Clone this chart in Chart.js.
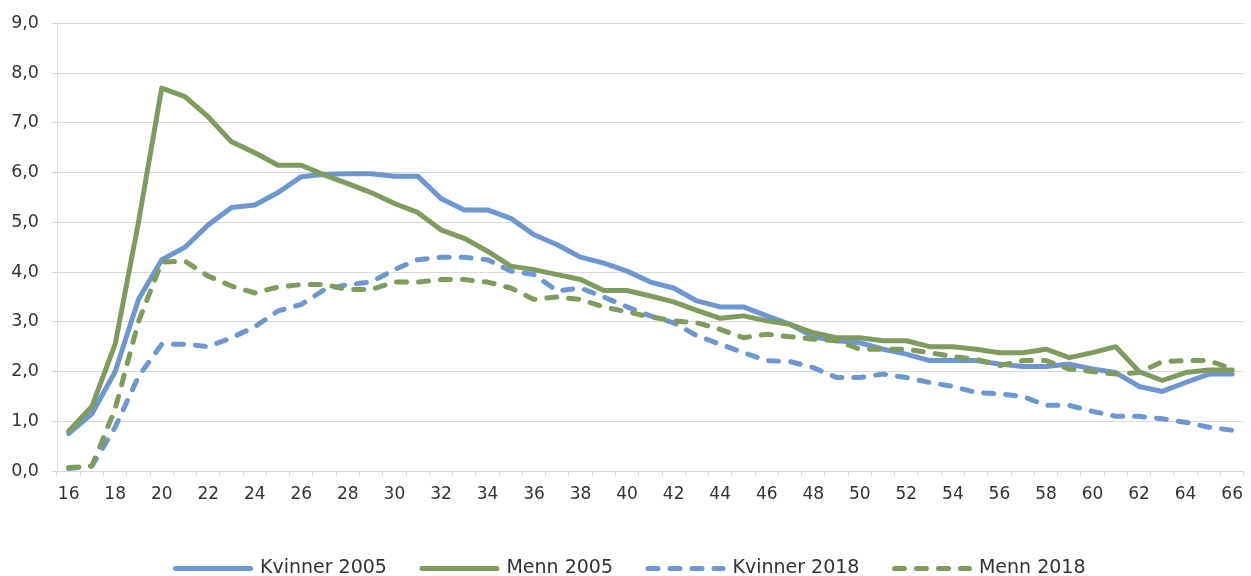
<!DOCTYPE html>
<html>
<head>
<meta charset="utf-8">
<script src="https://cdn.jsdelivr.net/npm/chart.js@4/dist/chart.umd.min.js"></script>
<style>
html,body{margin:0;padding:0;background:#fff;}
#wrap{width:1251px;height:576px;position:relative;}
</style>
</head>
<body>
<div id="wrap"><canvas id="c" width="1251" height="576"></canvas></div>
<script>
const ages = [16,17,18,19,20,21,22,23,24,25,26,27,28,29,30,31,32,33,34,35,36,37,38,39,40,41,42,43,44,45,46,47,48,49,50,51,52,53,54,55,56,57,58,59,60,61,62,63,64,65,66];

const kvinner2005 = [0.75,1.15,2.0,3.45,4.25,4.5,4.95,5.3,5.35,5.6,5.92,5.97,5.98,5.98,5.93,5.93,5.48,5.25,5.25,5.08,4.75,4.55,4.3,4.18,4.02,3.8,3.68,3.42,3.3,3.3,3.12,2.95,2.7,2.62,2.58,2.45,2.35,2.22,2.22,2.22,2.15,2.1,2.1,2.15,2.05,1.98,1.7,1.6,1.78,1.95,1.95];

const menn2005 = [0.8,1.3,2.55,5.0,7.7,7.53,7.12,6.62,6.4,6.15,6.15,5.95,5.78,5.6,5.38,5.2,4.85,4.68,4.42,4.12,4.05,3.95,3.85,3.63,3.63,3.52,3.4,3.23,3.07,3.12,3.02,2.95,2.78,2.68,2.68,2.62,2.62,2.5,2.5,2.45,2.38,2.38,2.45,2.28,2.38,2.5,2.0,1.82,1.98,2.03,2.03];

const kvinner2018 = [0.05,0.1,0.88,1.9,2.55,2.55,2.5,2.68,2.9,3.22,3.35,3.65,3.75,3.8,4.05,4.25,4.3,4.3,4.25,4.02,3.95,3.62,3.68,3.5,3.3,3.12,2.98,2.72,2.55,2.38,2.22,2.2,2.08,1.88,1.88,1.95,1.88,1.78,1.7,1.58,1.55,1.5,1.32,1.32,1.2,1.1,1.1,1.05,0.98,0.88,0.82];

const menn2018 = [0.07,0.1,1.25,3.0,4.2,4.22,3.92,3.72,3.58,3.7,3.75,3.75,3.65,3.65,3.8,3.8,3.85,3.85,3.8,3.68,3.45,3.5,3.45,3.3,3.2,3.1,3.02,2.98,2.85,2.68,2.75,2.7,2.65,2.62,2.45,2.45,2.45,2.38,2.3,2.25,2.12,2.22,2.22,2.05,2.0,1.95,1.98,2.2,2.22,2.22,2.05];

const seriesNames = ['Kvinner 2005','Menn 2005','Kvinner 2018','Menn 2018'];

const BLUE = '#6E97D0';
const GREEN = '#7F9B5D';
const GRID = '#D9D9D9';
const TEXT = '#333333';
const FONT = "'DejaVu Sans', Verdana, sans-serif";
const LW = 5;
const DASH = [10, 12];

function ds(label, data, color, dashed, idx) {
  return {
    label: label,
    data: data,
    borderColor: color,
    backgroundColor: color,
    borderWidth: LW,
    borderDash: dashed ? DASH : [],
    borderCapStyle: 'round',
    borderJoinStyle: 'round',
    pointRadius: 0,
    pointHoverRadius: 0,
    tension: 0,
    fill: false,
    order: 10 - idx
  };
}

const shiftLegend = {
  id: 'shiftLegend',
  afterUpdate(chart) {
    const lg = chart.legend;
    if (lg) { lg.top += 12; lg.bottom += 12; lg.left += 8; lg.right += 8; }
  }
};

new Chart(document.getElementById('c'), {
  type: 'line',
  data: {
    labels: ages,
    datasets: [
      ds(seriesNames[0], kvinner2005, BLUE, false, 0),
      ds(seriesNames[1], menn2005, GREEN, false, 1),
      ds(seriesNames[2], kvinner2018, BLUE, true, 2),
      ds(seriesNames[3], menn2018, GREEN, true, 3)
    ]
  },
  options: {
    responsive: false,
    animation: false,
    devicePixelRatio: 1,
    layout: { padding: { top: 23, right: 6, left: 0, bottom: 0 } },
    plugins: {
      legend: {
        position: 'bottom',
        labels: {
          usePointStyle: true,
          pointStyle: 'line',
          pointStyleWidth: 75,
          padding: 35,
          color: TEXT,
          font: { family: FONT, size: 19 },
          sort: (a, b) => a.datasetIndex - b.datasetIndex,
          generateLabels(chart) {
            const items = Chart.defaults.plugins.legend.labels.generateLabels(chart);
            items.forEach(it => {
              const d = chart.data.datasets[it.datasetIndex];
              it.lineDash = d.borderDash;
              it.lineCap = 'round';
              it.lineWidth = LW;
              it.strokeStyle = d.borderColor;
              it.fillStyle = d.borderColor;
              it.pointStyle = 'line';
            });
            return items;
          }
        }
      },
      tooltip: { enabled: false }
    },
    scales: {
      x: {
        type: 'category',
        offset: true,
        afterFit(scale) { scale.height = 41; },
        grid: {
          offset: true,
          drawOnChartArea: false,
          drawTicks: true,
          tickLength: 5,
          color: GRID
        },
        border: { display: true, color: GRID, width: 1 },
        ticks: {
          autoSkip: false,
          maxRotation: 0,
          minRotation: 0,
          padding: 8,
          color: TEXT,
          font: { family: FONT, size: 17 },
          callback: function(val, i) { return i % 2 === 0 ? String(ages[i]) : ''; }
        }
      },
      y: {
        min: 0,
        max: 9,
        afterFit(scale) { scale.width = 57; },
        grid: {
          color: GRID,
          lineWidth: 1,
          drawTicks: true,
          tickLength: 5
        },
        border: { display: true, color: GRID, width: 1 },
        ticks: {
          stepSize: 1,
          padding: 13,
          color: TEXT,
          font: { family: FONT, size: 17.5 },
          callback: function(v) { return Number(v).toFixed(1).replace('.', ','); }
        }
      }
    }
  },
  plugins: [shiftLegend]
});
</script>
</body>
</html>
